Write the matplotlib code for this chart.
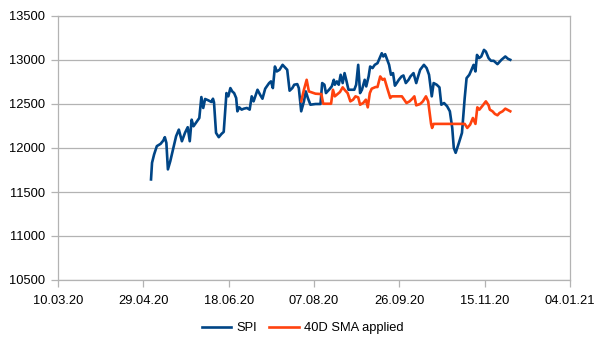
import datetime as dt

import matplotlib
matplotlib.use("Agg")
import matplotlib.pyplot as plt
import matplotlib.dates as mdates

plt.rcParams['font.family'] = ['Liberation Sans', 'DejaVu Sans']

# days after 10.03.20
spi_days = [54.5, 55.1, 56.3, 57.9, 60.1, 61.7, 62.6, 63.5, 64.4, 65.8, 67.6, 69.2,
            70.8, 72.6, 74.4, 76.0, 77.2, 78.3, 79.4, 81.2, 82.8, 84.0, 85.1, 86.2,
            88.0, 89.9, 90.8, 91.4, 92.6, 94.2, 95.8, 97.1, 98.7, 99.8, 101.0, 102.1,
            103.2, 104.4, 105.1, 106.2, 107.6, 108.9, 110.7, 112.3, 113.5, 114.6, 115.7,
            116.9, 118.4, 119.8, 121.4, 123.7, 124.8, 125.9, 127.1, 128.2, 129.8, 131.6,
            133.4, 134.3, 135.7, 137.3, 138.4, 140.2, 141.1, 142.5, 144.1, 145.2, 146.4,
            147.9, 150.9, 153.8, 154.8, 156.1, 157.0, 158.8, 160.4, 161.6, 162.2, 163.4,
            164.5, 165.6, 166.8, 167.9, 169.0, 170.2, 173.6, 174.7, 175.9, 177.0, 178.1,
            179.7, 180.6, 182.0, 182.9, 184.3, 185.6, 187.2, 188.3, 189.7, 190.6, 191.7,
            192.9, 194.0, 195.1, 196.3, 197.4, 198.5, 199.7, 201.3, 202.4, 203.8, 205.4,
            206.5, 208.3, 209.9, 211.0, 212.2, 214.4, 216.0, 217.4, 219.0, 220.1, 221.9,
            223.5, 224.6, 226.2, 228.0, 229.6, 231.0, 231.9, 233.0, 234.9, 236.7, 238.3,
            239.4, 241.0, 242.3, 243.5, 244.6, 245.5, 246.7, 248.0, 249.6, 250.7, 252.3,
            253.7, 255.3, 257.5, 259.8, 262.1, 263.7, 265.0]
spi_vals = [11643, 11832, 11926, 12021, 12047, 12085, 12123, 12058, 11757, 11851, 12002, 12134,
            12209, 12077, 12172, 12236, 12077, 12322, 12247, 12296, 12341, 12579, 12455, 12557,
            12542, 12523, 12560, 12519, 12172, 12123, 12160, 12183, 12624, 12587, 12681, 12643,
            12624, 12568, 12417, 12462, 12436, 12447, 12455, 12436, 12587, 12530, 12594,
            12662, 12606, 12560, 12674, 12738, 12757, 12681, 12926, 12870, 12889, 12945,
            12908, 12889, 12651, 12681, 12719, 12726, 12681, 12417, 12530, 12643, 12568,
            12492, 12500, 12500, 12738, 12719, 12624, 12662, 12700, 12775, 12719, 12757,
            12719, 12832, 12738, 12851, 12764, 12662, 12662, 12719, 12945, 12624, 12662,
            12775, 12700, 12813, 12926, 12908, 12945, 12964, 13013, 13077, 13040, 13066,
            13002, 12945, 12832, 12851, 12708, 12738, 12775, 12813, 12824, 12738, 12775,
            12813, 12851, 12738, 12813, 12889, 12945, 12908, 12832, 12587, 12738, 12719,
            12689, 12492, 12511, 12474, 12417, 12228, 12002, 11945, 12058, 12172, 12568,
            12794, 12832, 12889, 12945, 12870, 13058, 13021, 13040, 13115, 13096, 13021,
            12991, 12991, 12953, 13002, 13040, 13013, 13002]

sma_days = [142.5, 144.1, 145.7, 147.0, 150.9, 154.3, 155.4, 157.7, 160.0, 161.1, 162.2,
            163.8, 165.2, 166.8, 168.4, 169.7, 171.3, 172.9, 174.3, 175.9, 177.0, 178.8,
            180.4, 181.5, 182.7, 183.8, 186.1, 187.2, 188.8, 190.2, 191.3, 192.9, 194.7,
            195.6, 197.4, 201.5, 204.2, 206.0, 207.6, 208.8, 209.9, 212.2, 213.8, 215.6,
            216.9, 218.6, 219.2, 220.1, 238.3, 239.8, 241.5, 243.1, 244.6, 245.7, 246.9,
            248.5, 250.7, 252.3, 253.0, 254.6, 256.0, 257.5, 258.7, 260.5, 262.1, 263.2, 265.0]
sma_vals = [12530, 12662, 12775, 12643, 12617, 12613, 12503, 12503, 12503, 12662, 12587,
            12613, 12636, 12689, 12651, 12624, 12530, 12549, 12587, 12575, 12492, 12511,
            12549, 12462, 12624, 12674, 12693, 12693, 12813, 12775, 12787, 12681, 12568,
            12587, 12587, 12587, 12511, 12530, 12560, 12587, 12485, 12500, 12530, 12587,
            12530, 12274, 12228, 12274, 12274, 12228, 12266, 12341, 12274, 12462, 12436,
            12474, 12530, 12485, 12436, 12417, 12387, 12372, 12398, 12417, 12447, 12436, 12417]

start = mdates.date2num(dt.datetime(2020, 3, 10))
tick_days = [0, 50, 100, 150, 200, 250, 300]
y_ticks = [10500, 11000, 11500, 12000, 12500, 13000, 13500]

fig = plt.figure(figsize=(6.05, 3.4), dpi=100)
ax = fig.add_axes([58 / 605, 1 - 280 / 340, 512 / 605, 264 / 340])

ax.plot([start + d for d in spi_days], spi_vals, color='#004586', lw=1.9, label='SPI')
ax.plot([start + d for d in sma_days], sma_vals, color='#ff420e', lw=1.9, label='40D SMA applied')

ax.set_xlim(start, start + 300)
ax.set_ylim(10500, 13500)
ax.set_xticks([start + d for d in tick_days])
ax.xaxis.set_major_formatter(mdates.DateFormatter('%d.%m.%y'))
ax.set_yticks(y_ticks)
ax.grid(axis='y', color='#b3b3b3', lw=0.9)
ax.set_axisbelow(True)
for s in ax.spines.values():
    s.set_color('#b3b3b3')
    s.set_linewidth(0.9)
ax.tick_params(axis='both', colors='#b3b3b3', labelcolor='black', labelsize=9.3,
               length=5, width=0.9)
ax.tick_params(axis='x', pad=6)
ax.tick_params(axis='y', pad=4)

fig.legend(loc='center', bbox_to_anchor=(0.5, 1 - 328 / 340), ncol=2, frameon=False,
           fontsize=9.3, handlelength=2.3, handletextpad=0.4, columnspacing=0.9)

fig.savefig('out.png', dpi=100)
